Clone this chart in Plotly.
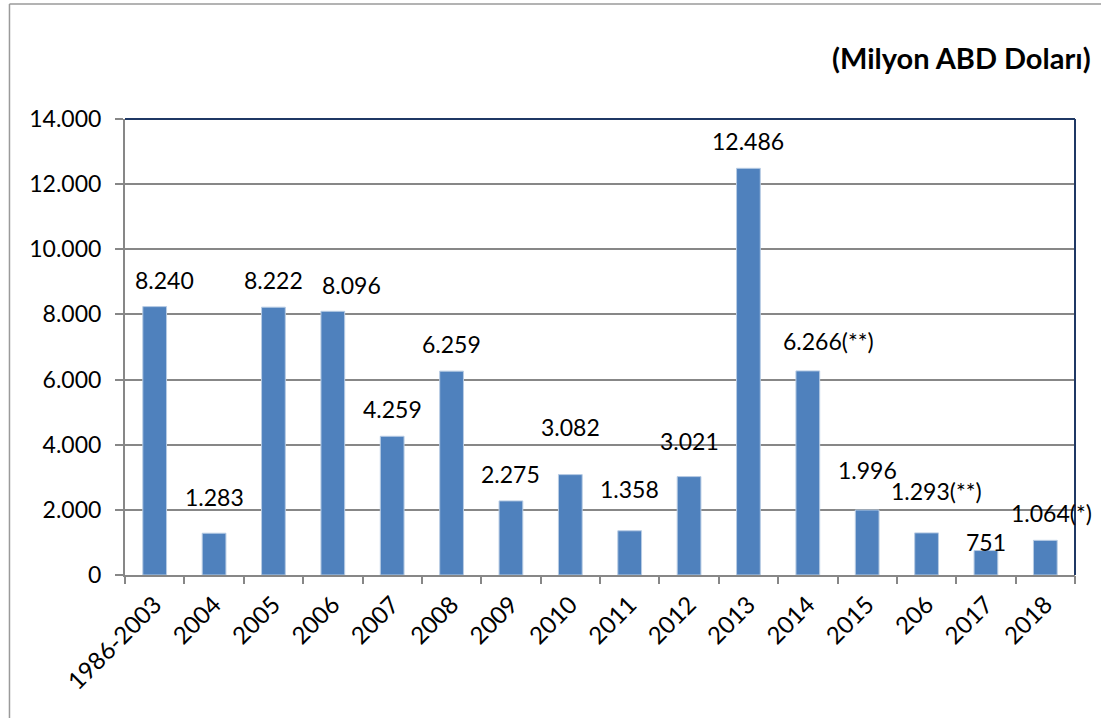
import plotly.graph_objects as go

categories = ["1986-2003", "2004", "2005", "2006", "2007", "2008", "2009", "2010",
              "2011", "2012", "2013", "2014", "2015", "206", "2017", "2018"]
values = [8240, 1283, 8222, 8096, 4259, 6259, 2275, 3082,
          1358, 3021, 12486, 6266, 1996, 1293, 751, 1064]
label_suffix = ["", "", "", "", "", "", "", "",
                "", "", "", "(**)", "", "(**)", "", "(*)"]
y_ticks = [0, 2000, 4000, 6000, 8000, 10000, 12000, 14000]
y_ticklabels = ["0", "2.000", "4.000", "6.000", "8.000", "10.000", "12.000", "14.000"]

# manual label placement (pixel offsets, as in the original Excel chart)
label_dx = [10, 0, 0, 19, 0, 0, 0, 0, 0, 0, 0, 21, 0, 10, 0, 6]
label_dy = [27, 36, 27, 26, 27, 27, 27, 48, 42, 36, 27, 30, 40, 42, 9, 27]

FONT = "Lato, 'Open Sans', sans-serif"
GRAY = "#878787"
NAVY = "#1F3864"

def fmt(v):
    return f"{v:,}".replace(",", ".")

fig = go.Figure()
fig.add_trace(go.Bar(
    x=list(range(len(categories))), y=values,
    marker=dict(color="#4F81BD", line=dict(color="#B8CCE4", width=1)),
    width=0.4,
    hovertext=categories, hoverinfo="text+y",
))

annotations = []
for i, (v, s, dx, dy) in enumerate(zip(values, label_suffix, label_dx, label_dy)):
    annotations.append(dict(
        x=i, y=v, xref="x", yref="y", text=fmt(v) + s, showarrow=False,
        xanchor="center", yanchor="middle", xshift=dx, yshift=dy,
        font=dict(family=FONT, size=23, color="#000000"),
    ))
annotations.append(dict(
    x=1.019, y=1.134, xref="paper", yref="paper", text="<b>(Milyon ABD Doları)</b>",
    showarrow=False, xanchor="right", yanchor="middle",
    font=dict(family=FONT, size=29, color="#000000"),
))

shapes = [
    # navy top and right border of the plot area
    dict(type="line", xref="paper", yref="paper", x0=0, x1=1, y0=1, y1=1,
         line=dict(color=NAVY, width=2)),
    dict(type="line", xref="paper", yref="paper", x0=1, x1=1, y0=0, y1=1,
         line=dict(color=NAVY, width=2)),
    # outer chart frame (left and top)
    dict(type="line", xref="paper", yref="paper", x0=-0.1216, x1=-0.1216, y0=-0.33, y1=1.252,
         line=dict(color="#9A9A9A", width=1.5)),
    dict(type="line", xref="paper", yref="paper", x0=-0.1216, x1=1.03, y0=1.252, y1=1.252,
         line=dict(color="#9A9A9A", width=1.5)),
]

fig.update_layout(
    width=1101, height=718,
    margin=dict(l=125, r=26, t=119, b=143),
    paper_bgcolor="white", plot_bgcolor="white",
    showlegend=False,
    annotations=annotations,
    shapes=shapes,
    font=dict(family=FONT, size=23, color="#000000"),
    xaxis=dict(
        tickmode="array", tickvals=list(range(len(categories))), ticktext=categories,
        tickangle=-45, ticks="", showgrid=False, ticklabelstandoff=4,
        showline=True, linecolor=GRAY, linewidth=2,
        tickfont=dict(family=FONT, size=24, color="#000000"),
        range=[-0.5, len(categories) - 0.5], zeroline=False,
    ),
    xaxis2=dict(
        overlaying="x", side="bottom", range=[-0.5, len(categories) - 0.5],
        tickmode="array", tickvals=[i - 0.5 for i in range(len(categories) + 1)],
        showticklabels=False, ticks="outside", ticklen=8, tickcolor=GRAY, tickwidth=2,
        showgrid=False, zeroline=False, showline=False,
    ),
    yaxis=dict(
        range=[0, 14000], tickvals=y_ticks, ticktext=y_ticklabels,
        ticks="outside", ticklen=8, tickcolor=GRAY, tickwidth=2,
        showline=True, linecolor=GRAY, linewidth=2, ticklabelstandoff=9,
        showgrid=True, gridcolor=GRAY, gridwidth=1.5, zeroline=False,
        tickfont=dict(family=FONT, size=23, color="#000000"),
    ),
)
# invisible trace to activate the boundary-tick axis
fig.add_trace(go.Scatter(x=[0], y=[0], xaxis="x2", mode="markers",
                         marker=dict(opacity=0), hoverinfo="skip"))

fig.write_html("out.html", config={"displayModeBar": False},
               post_script="document.body.style.margin='0';")
